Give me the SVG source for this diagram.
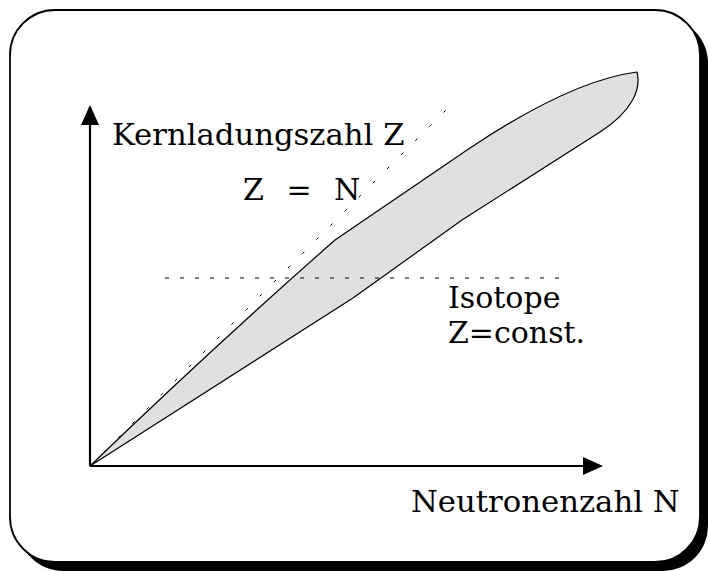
<svg xmlns="http://www.w3.org/2000/svg" width="708" height="571" viewBox="0 0 708 571">
  <style>
    .lbl { font-family: "DejaVu Serif", "Liberation Serif", serif; font-size: 30px; fill: #000; }
    .axis-lbl { font-size: 30.7px; }
    .axis { stroke: #000; stroke-width: 2.2; fill: none; }
    .dots { stroke: #000; stroke-width: 1; fill: none; }
  </style>
  <defs>
    <marker id="arrow" viewBox="0 0 20 20" refX="18" refY="10" markerWidth="20" markerHeight="20" markerUnits="userSpaceOnUse" orient="auto">
      <path d="M0,1 L20,10 L0,19 Z" fill="#000"/>
    </marker>
  </defs>

  <g id="frame">
    <rect x="18" y="18" width="690" height="553" rx="45" ry="45" fill="#000"/>
    <rect x="10" y="10" width="690" height="552" rx="45" ry="45" fill="#fff" stroke="#000" stroke-width="1.8"/>
  </g>

  <g id="band">
    <path d="M90,466 Q210,350 335,240 L470,148 C530,108 590,78 637,72 C641,88 634,110 600,132 L462,220 L353,298 Z" fill="#e0e0e0" stroke="#000" stroke-width="1.2" stroke-linejoin="round"/>
  </g>

  <g id="connectors">
    <line class="dots" x1="90" y1="466" x2="450" y2="106" stroke-dasharray="3 17"/>
    <line class="dots" x1="165" y1="278" x2="562" y2="278" stroke-dasharray="4 11"/>
    <line class="axis" x1="90" y1="466" x2="90" y2="107" marker-end="url(#arrow)"/>
    <line class="axis" x1="90" y1="466" x2="601" y2="466" marker-end="url(#arrow)"/>
  </g>

  <g id="label-z-axis">
    <text class="lbl axis-lbl" x="112" y="145">Kernladungszahl Z</text>
  </g>
  <g id="label-z-eq-n">
    <text class="lbl" x="243" y="200" word-spacing="13">Z = N</text>
  </g>
  <g id="label-isotope">
    <text class="lbl" x="448" y="308">Isotope</text>
    <text class="lbl" x="448" y="343">Z=const.</text>
  </g>
  <g id="label-n-axis">
    <text class="lbl axis-lbl" x="411" y="512">Neutronenzahl N</text>
  </g>
</svg>
